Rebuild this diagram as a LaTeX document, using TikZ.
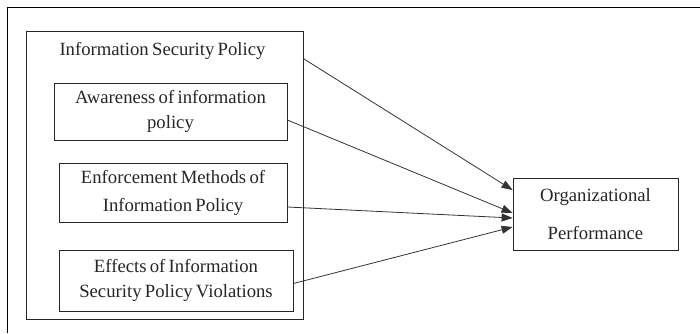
\documentclass[tikz,border=0pt]{standalone}
\usepackage{fontspec}
\setmainfont[WordSpace=0.7]{Liberation Serif}
\usetikzlibrary{arrows.meta}
\tikzset{
  box/.style={draw=black!85, line width=0.8pt, inner sep=0pt, align=center,
    font=\fontsize{18.7}{25}\selectfont, text=black!85},
  conn/.style={draw=black!80, line width=0.8pt, -{Triangle[length=11pt,width=8pt]}}
}
\begin{document}
\begin{tikzpicture}[x=1pt,y=-1pt]
\useasboundingbox (0,0) rectangle (700,333);
\draw[line width=1pt] (7,333) -- (7,7) -- (700,7);
% outer policy box
\node[box, minimum width=277pt, minimum height=288pt] (isp) at (164.5,175) {};
\node[font=\fontsize{18.7}{21}\selectfont, text=black!85] (ispt) at (162.5,51) {Information Security Policy};
\node[box, minimum width=233pt, minimum height=57pt] (aw) at (170.5,111.5) {Awareness of information\\policy};
\node[box, minimum width=228pt, minimum height=59pt] (en) at (173,192.5) {Enforcement Methods of\\[3pt]Information Policy};
\node[box, minimum width=234pt, minimum height=61pt] (ef) at (176,280.5) {Effects of Information\\Security Policy Violations};
\node[box, minimum width=165pt, minimum height=72pt, font=\fontsize{18.7}{38}\selectfont] (op) at (595.5,214) {Organizational\\Performance};
% connectors
\draw[conn] ([yshift=-28pt]isp.north east) -- ([yshift=24pt]op.west);
\draw[conn] ([yshift=-8.5pt]aw.east) -- ([yshift=1pt]op.west);
\draw[conn] ([yshift=-14.5pt]en.east) -- ([yshift=-4pt]op.west);
\draw[conn] ([yshift=-3pt]ef.east) -- ([yshift=-13pt]op.west);
\end{tikzpicture}
\end{document}
